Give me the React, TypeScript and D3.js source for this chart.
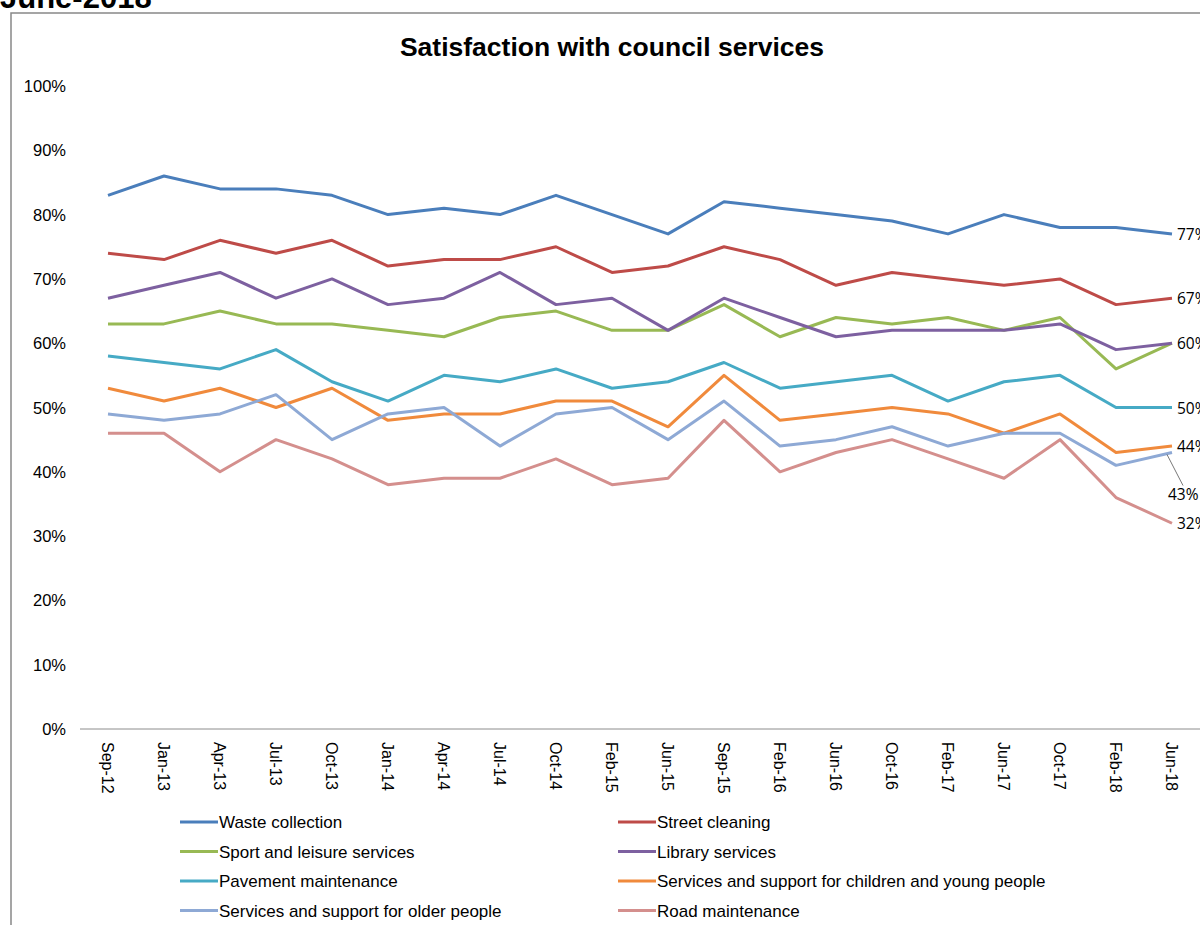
import React from "react";
import * as d3 from "d3";

const categories = ["Sep-12","Jan-13","Apr-13","Jul-13","Oct-13","Jan-14","Apr-14","Jul-14","Oct-14","Feb-15","Jun-15","Sep-15","Feb-16","Jun-16","Oct-16","Feb-17","Jun-17","Oct-17","Feb-18","Jun-18"];

const wasteCollection = [83,86,84,84,83,80,81,80,83,80,77,82,81,80,79,77,80,78,78,77];
const streetCleaning = [74,73,76,74,76,72,73,73,75,71,72,75,73,69,71,70,69,70,66,67];
const sportLeisure = [63,63,65,63,63,62,61,64,65,62,62,66,61,64,63,64,62,64,56,60];
const libraryServices = [67,69,71,67,70,66,67,71,66,67,62,67,64,61,62,62,62,63,59,60];
const pavementMaintenance = [58,57,56,59,54,51,55,54,56,53,54,57,53,54,55,51,54,55,50,50];
const childrenYoung = [53,51,53,50,53,48,49,49,51,51,47,55,48,49,50,49,46,49,43,44];
const olderPeople = [49,48,49,52,45,49,50,44,49,50,45,51,44,45,47,44,46,46,41,43];
const roadMaintenance = [46,46,40,45,42,38,39,39,42,38,39,48,40,43,45,42,39,45,36,32];

const yTicks = [0,10,20,30,40,50,60,70,80,90,100];

const series = [
  { name: "Waste collection", values: wasteCollection, color: "#4A7EBB", col: 0, row: 0 },
  { name: "Street cleaning", values: streetCleaning, color: "#BE4B48", col: 1, row: 0 },
  { name: "Sport and leisure services", values: sportLeisure, color: "#98B954", col: 0, row: 1 },
  { name: "Library services", values: libraryServices, color: "#7D60A0", col: 1, row: 1 },
  { name: "Pavement maintenance", values: pavementMaintenance, color: "#46AAC5", col: 0, row: 2 },
  { name: "Services and support for children and young people", values: childrenYoung, color: "#F08A3C", col: 1, row: 2 },
  { name: "Services and support for older people", values: olderPeople, color: "#8EA9D5", col: 0, row: 3 },
  { name: "Road maintenance", values: roadMaintenance, color: "#D48F8D", col: 1, row: 3 },
];

export default function App() {
  const W = 1200, H = 925;
  const x = d3.scalePoint<string>().domain(categories).range([108, 1172]);
  const y = d3.scaleLinear().domain([0, 100]).range([729, 86]);
  const line = d3.line<number>().x((_, i) => x(categories[i]) as number).y(d => y(d));
  const axisFont = "'Liberation Sans', Arial, sans-serif";
  const labelFont = "'Open Sans', 'DejaVu Sans', sans-serif";
  const last = categories[categories.length - 1];
  const lx = (x(last) as number);

  return (
    <svg width={W} height={H} style={{ position: "absolute", left: 0, top: 0, background: "#fff" }}>
      <rect x={0} y={0} width={W} height={H} fill="#fff" />
      <text x={0} y={8} fontFamily={axisFont} fontWeight="bold" fontSize={31} fill="#000">June-2018</text>
      <rect x={11} y={13} width={1210} height={930} fill="none" stroke="#888" strokeWidth={1.5} />
      <text x={612} y={56} textAnchor="middle" fontFamily={axisFont} fontWeight="bold" fontSize={26.5} fill="#000">Satisfaction with council services</text>
      {yTicks.map(t => (
        <text key={t} x={66} y={y(t) + 6} textAnchor="end" fontFamily={axisFont} fontSize={16.5} fill="#000">{t}%</text>
      ))}
      <line x1={80} x2={1200} y1={y(0)} y2={y(0)} stroke="#8c8c8c" strokeWidth={1} />
      {categories.map(c => (
        <text key={c} transform={`translate(${(x(c) as number) - 6},742) rotate(90)`} fontFamily={axisFont} fontSize={16} fill="#000">{c}</text>
      ))}
      {series.map(s => (
        <path key={s.name} d={line(s.values) || ""} fill="none" stroke={s.color} strokeWidth={3} strokeLinejoin="round" />
      ))}
      {series.map(s => {
        const v = s.values[s.values.length - 1];
        if (s.name === "Services and support for older people") {
          return (
            <g key={s.name}>
              <line x1={lx - 5} y1={y(v) + 2} x2={lx + 11} y2={y(v) + 33} stroke="#555" strokeWidth={0.8} />
              <text x={lx - 4} y={y(v) + 47} fontFamily={labelFont} fontSize={15.5} fill="#000">{v}%</text>
            </g>
          );
        }
        if (s.name === "Sport and leisure services") return null;
        return (
          <text key={s.name} x={lx + 5} y={y(v) + 6} fontFamily={labelFont} fontSize={15.5} fill="#000">{v}%</text>
        );
      })}
      {series.map(s => {
        const lx0 = s.col === 0 ? 180 : 618;
        const ly = 822 + s.row * 29.5;
        return (
          <g key={s.name + "-leg"}>
            <line x1={lx0} x2={lx0 + 38} y1={ly} y2={ly} stroke={s.color} strokeWidth={3} />
            <text x={lx0 + 39} y={ly + 6} fontFamily={axisFont} fontSize={17} fill="#000">{s.name}</text>
          </g>
        );
      })}
    </svg>
  );
}
